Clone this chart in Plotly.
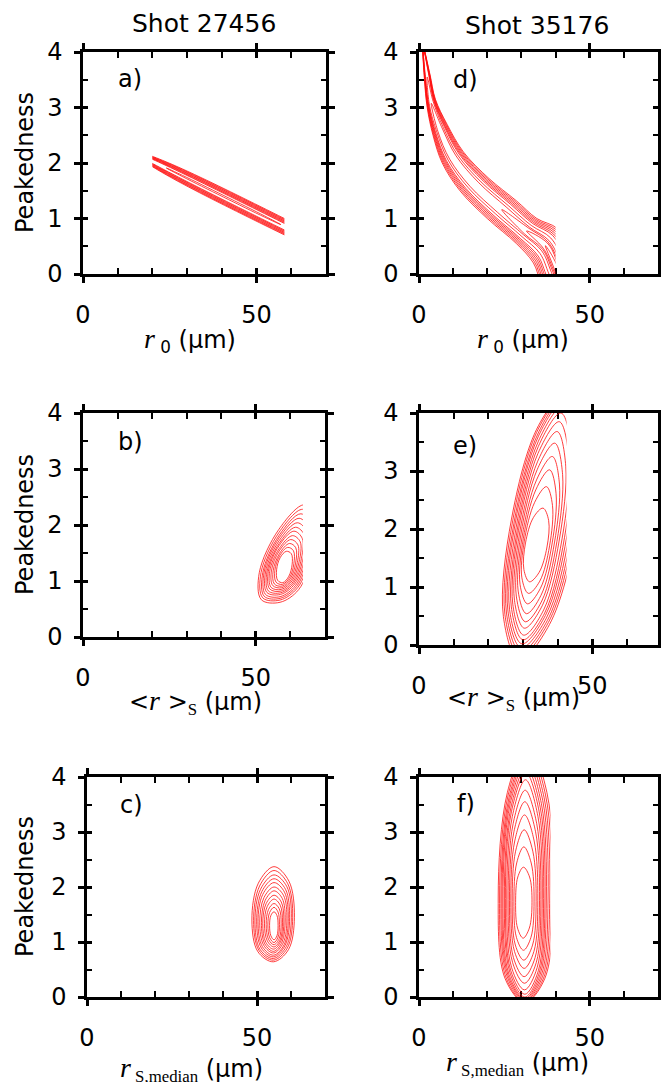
import plotly.graph_objects as go

W, H = 661, 1082

# ---------------- text / ticks ----------------
shot_titles = ["Shot 27456", "Shot 35176"]
panel_letters = ["a)", "b)", "c)", "d)", "e)", "f)"]
x_tick_vals = [0, 50]
y_tick_vals = [0, 1, 2, 3, 4]
y_label = "Peakedness"

# ---------------- contour data ----------------
# each contour: its left, top, right and bottom points (closed loop)
# panel a : r0 vs peakedness, shot 27456 (thin tilted band)
a_lx = [12.0, 12.0, 12.0, 12.0, 12.0, 12.0, 12.0, 24.0]
a_ly = [2.28, 2.28, 2.28, 2.28, 2.28, 2.28, 2.28, 1.91]
a_tx = [49.46, 49.36, 49.27, 49.17, 49.08, 48.98, 48.88, 40.6]
a_ty = [1.266, 1.254, 1.242, 1.230, 1.218, 1.206, 1.194, 1.412]
a_rx = [85.0, 85.0, 85.0, 85.0, 85.0, 85.0, 85.0, 57.0]
a_ry = [0.02, 0.02, 0.02, 0.02, 0.02, 0.02, 0.02, 0.89]
a_bx = [47.54, 47.64, 47.73, 47.83, 47.92, 48.02, 48.12, 40.4]
a_by = [1.026, 1.038, 1.050, 1.062, 1.074, 1.086, 1.098, 1.388]

# panel b : <r>_S vs peakedness, shot 27456
b_lx = [56.0, 55.5, 55.0, 54.5, 54.0, 53.6, 53.2, 52.8, 52.4, 52.0, 51.5, 51.0]
b_ly = [1.20, 1.19, 1.18, 1.18, 1.17, 1.17, 1.16, 1.16, 1.16, 1.15, 1.15, 1.15]
b_tx = [58.8, 59.2, 59.7, 60.1, 60.6, 61.0, 61.5, 62.0, 62.5, 63.0, 63.5, 64.0]
b_ty = [1.53, 1.60, 1.67, 1.74, 1.81, 1.89, 1.96, 2.04, 2.12, 2.20, 2.28, 2.36]
b_rx = [60.5, 61.0, 61.5, 62.0, 62.5, 63.0, 63.5, 64.0, 64.5, 65.0, 65.5, 66.0]
b_ry = [1.30, 1.31, 1.32, 1.33, 1.34, 1.35, 1.36, 1.37, 1.38, 1.39, 1.40, 1.40]
b_bx = [57.8, 57.7, 57.6, 57.5, 57.4, 57.3, 57.2, 57.1, 57.0, 57.0, 57.0, 57.0]
b_by = [0.97, 0.94, 0.91, 0.88, 0.85, 0.82, 0.79, 0.76, 0.72, 0.69, 0.66, 0.62]

# panel c : r_S,median vs peakedness, shot 27456
c_lx = [53.7, 53.2, 52.7, 52.2, 51.7, 51.3, 50.8, 50.3, 49.9, 49.4, 49.0, 48.5]
c_ly = [1.30, 1.31, 1.32, 1.33, 1.34, 1.35, 1.36, 1.37, 1.38, 1.38, 1.39, 1.40]
c_tx = [55.0, 55.0, 55.0, 55.0, 55.0, 55.0, 55.0, 55.0, 55.0, 55.0, 55.0, 55.0]
c_ty = [1.55, 1.63, 1.70, 1.78, 1.85, 1.93, 2.00, 2.08, 2.15, 2.22, 2.30, 2.37]
c_rx = [56.2, 56.6, 57.1, 57.5, 57.9, 58.3, 58.8, 59.2, 59.6, 60.1, 60.5, 61.0]
c_ry = [1.30, 1.32, 1.34, 1.36, 1.38, 1.40, 1.42, 1.43, 1.44, 1.45, 1.45, 1.45]
c_bx = [55.0, 55.0, 55.0, 55.0, 54.9, 54.9, 54.9, 54.9, 54.8, 54.8, 54.8, 54.8]
c_by = [1.04, 0.99, 0.95, 0.91, 0.87, 0.83, 0.80, 0.76, 0.73, 0.70, 0.67, 0.64]

# panel d : r0 vs peakedness, shot 35176 (curved ridge)
# outer edges of the ridge, read as pairs across the band
d_lo_x = [1.0, 1.6, 2.4, 4.1, 6.8, 12.0, 20.0, 28.5, 33.5, 36.0]
d_lo_y = [4.10, 3.50, 3.00, 2.50, 2.00, 1.50, 1.00, 0.55, 0.20, -0.20]
d_hi_x = [1.4, 3.2, 4.8, 8.2, 13.0, 20.5, 28.5, 34.5, 40.5, 44.0]
d_hi_y = [4.10, 3.60, 3.15, 2.70, 2.20, 1.72, 1.32, 1.00, 0.82, 0.45]
# relative width of each contour and the ridge point where it starts
d_frac = [1.00, 0.92, 0.84, 0.76, 0.68, 0.60, 0.45, 0.30, 0.22, 0.16, 0.10]
d_start = [0, 0, 0, 0, 0, 0, 1, 2, 6, 7, 8]

# panel e : <r>_S vs peakedness, shot 35176 (tilted ovals)
e_lx = [30.75, 30.4, 30.1, 29.75, 29.4, 29.05, 28.7, 28.4, 28.05, 27.7, 27.4, 27.05, 26.7]
e_ly = [1.76, 1.79, 1.83, 1.86, 1.90, 1.93, 1.97, 2.00, 2.03, 2.07, 2.10, 2.14, 2.17]
e_tx = [35.8, 36.8, 37.7, 38.5, 39.2, 39.9, 40.5, 41.0, 41.5, 42.0, 42.5, 42.9, 43.3]
e_ty = [2.36, 2.73, 3.02, 3.25, 3.48, 3.68, 3.85, 4.00, 4.12, 4.22, 4.30, 4.36, 4.40]
e_rx = [36.95, 37.7, 38.4, 39.1, 39.8, 40.5, 41.3, 42.0, 42.7, 43.4, 44.1, 44.8, 45.5]
e_ry = [1.69, 1.71, 1.74, 1.76, 1.78, 1.81, 1.83, 1.85, 1.88, 1.90, 1.92, 1.95, 1.97]
e_bx = [31.9, 31.6, 31.3, 31.0, 30.7, 30.4, 30.2, 30.0, 29.7, 29.5, 29.3, 29.1, 28.9]
e_by = [1.09, 0.89, 0.71, 0.54, 0.40, 0.29, 0.17, 0.09, 0.02, -0.05, -0.12, -0.19, -0.26]

# panel f : r_S,median vs peakedness, shot 35176
f_lx = [28.3, 27.8, 27.3, 26.9, 26.5, 26.1, 25.7, 25.3, 25.0, 24.6, 24.3, 24.0, 23.6, 23.2]
f_ly = [1.72, 1.73, 1.74, 1.75, 1.76, 1.77, 1.78, 1.79, 1.80, 1.80, 1.80, 1.80, 1.80, 1.80]
f_tx = [30.6, 30.7, 30.8, 30.9, 31.0, 31.1, 31.2, 31.3, 31.4, 31.5, 31.6, 31.7, 31.8, 31.9]
f_ty = [2.36, 2.73, 3.04, 3.31, 3.55, 3.76, 3.95, 4.08, 4.18, 4.28, 4.37, 4.45, 4.53, 4.60]
f_rx = [33.1, 33.7, 34.3, 34.8, 35.3, 35.7, 36.1, 36.5, 36.9, 37.3, 37.8, 38.3, 38.8, 39.3]
f_ry = [1.72, 1.73, 1.74, 1.75, 1.76, 1.77, 1.78, 1.79, 1.80, 1.80, 1.80, 1.80, 1.80, 1.80]
f_bx = [30.5, 30.6, 30.7, 30.8, 30.8, 30.9, 30.9, 31.0, 31.0, 31.0, 31.0, 31.0, 31.0, 31.0]
f_by = [1.07, 0.85, 0.67, 0.52, 0.37, 0.25, 0.13, 0.05, 0.00, -0.03, -0.05, -0.07, -0.09, -0.10]


def loops(lx, ly, tx, ty, rx, ry, bx, by, k=0.72):
    """closed loop through the four read extreme points, with a shoulder
    point between each pair so the spline rounds like an oval"""
    xs, ys = [], []
    for i in range(len(lx)):
        P = [(lx[i], ly[i]), (tx[i], ty[i]), (rx[i], ry[i]), (bx[i], by[i])]
        cx = sum(p[0] for p in P) / 4
        cy = sum(p[1] for p in P) / 4
        for j in range(4):
            p, q = P[j], P[(j + 1) % 4]
            xs.append(p[0])
            ys.append(p[1])
            xs.append(cx + k * (p[0] - cx) + k * (q[0] - cx))
            ys.append(cy + k * (p[1] - cy) + k * (q[1] - cy))
        xs += [P[0][0], None]
        ys += [P[0][1], None]
    return xs, ys


def ridge_loops(lo_x, lo_y, hi_x, hi_y, fracs, starts):
    n = len(lo_x)
    mx = [(lo_x[i] + hi_x[i]) / 2 for i in range(n)]
    my = [(lo_y[i] + hi_y[i]) / 2 for i in range(n)]
    xs, ys = [], []
    for f, s in zip(fracs, starts):
        px, py = [], []
        for i in range(n - 1, s, -1):
            px.append(mx[i] + f * (hi_x[i] - mx[i]))
            py.append(my[i] + f * (hi_y[i] - my[i]))
        px.append(mx[s])
        py.append(my[s])
        for i in range(s + 1, n):
            px.append(mx[i] + f * (lo_x[i] - mx[i]))
            py.append(my[i] + f * (lo_y[i] - my[i]))
        px += [48.0, px[0]]
        py += [-1.5, py[0]]
        xs += px + [None]
        ys += py + [None]
    return xs, ys


# ---------------- panel frames (pixel boxes) ----------------
# key, axis index, left px, right px, top px, bottom px, x max, clip range
panels = [
    ("a", 1, 83, 326, 52, 274, 70, (20.0, 58.0)),
    ("b", 2, 83, 325, 413, 637, 70, (0.0, 63.6)),
    ("c", 3, 87, 325, 777, 997, 70, None),
    ("d", 4, 419, 658, 52, 274, 70, (0.0, 40.0)),
    ("e", 5, 419, 658, 413, 645, 69, (0.0, 42.6)),
    ("f", 6, 419, 658, 777, 997, 70, (0.0, 38.5)),
]

contours = {
    "a": loops(a_lx, a_ly, a_tx, a_ty, a_rx, a_ry, a_bx, a_by),
    "b": loops(b_lx, b_ly, b_tx, b_ty, b_rx, b_ry, b_bx, b_by),
    "c": loops(c_lx, c_ly, c_tx, c_ty, c_rx, c_ry, c_bx, c_by),
    "d": ridge_loops(d_lo_x, d_lo_y, d_hi_x, d_hi_y, d_frac, d_start),
    "e": loops(e_lx, e_ly, e_tx, e_ty, e_rx, e_ry, e_bx, e_by, k=0.7071),
    "f": loops(f_lx, f_ly, f_tx, f_ty, f_rx, f_ry, f_bx, f_by),
}

FONT = "DejaVu Sans"
SERIF = "Liberation Serif"
LINE_W = 2.5
RED = "#ff0d0d"

fig = go.Figure()
layout = dict(
    width=W, height=H, margin=dict(l=0, r=0, t=0, b=0),
    paper_bgcolor="white", plot_bgcolor="rgba(0,0,0,0)",
    showlegend=False, template="none",
    font=dict(family=FONT, size=24, color="black"),
)


def sfx(i):
    return "" if i == 1 else str(i)


def empty_on(xa, ya):
    # empty trace so that the axis pair is always drawn
    fig.add_trace(go.Scatter(x=[], y=[], mode="lines", xaxis=xa, yaxis=ya,
                             hoverinfo="skip"))


clip_idx = 13
for key, i, pl, pr, pt, pb, xmax, clip in panels:
    xd = [pl / W, pr / W]
    yd = [1 - pb / H, 1 - pt / H]
    s = sfx(i)
    layout["xaxis" + s] = dict(
        domain=xd, range=[0, xmax], anchor="y" + s,
        showline=True, linecolor="black", linewidth=LINE_W, mirror="allticks",
        ticks="inside", ticklen=6, tickwidth=LINE_W, tickcolor="black",
        tickmode="array", tickvals=x_tick_vals, ticktext=[str(v) for v in x_tick_vals],
        tickfont=dict(family=FONT, size=24, color="black"), ticklabelstandoff=17,
        minor=dict(ticks="inside", ticklen=5, tickwidth=2, tickcolor="black",
                   dtick=10, tick0=0, showgrid=False),
        showgrid=False, zeroline=False, fixedrange=True,
    )
    layout["yaxis" + s] = dict(
        domain=yd, range=[0, 4], anchor="x" + s,
        showline=True, linecolor="black", linewidth=LINE_W, mirror="allticks",
        ticks="inside", ticklen=5, tickwidth=LINE_W, tickcolor="black",
        tickmode="array", tickvals=y_tick_vals, ticktext=[str(v) for v in y_tick_vals],
        tickfont=dict(family=FONT, size=24, color="black"), ticklabelstandoff=13,
        minor=dict(ticks="inside", ticklen=5, tickwidth=2, tickcolor="black",
                   dtick=0.5, tick0=0, showgrid=False),
        showgrid=False, zeroline=False, fixedrange=True,
    )
    empty_on("x" + s, "y" + s)
    # overlaid twin axes carrying the outward half of the major ticks
    j = str(i + 6)
    layout["xaxis" + j] = dict(
        range=[0, xmax], anchor="y" + s, overlaying="x" + s, side="bottom",
        showline=False, mirror="allticks", ticks="outside", ticklen=8,
        tickwidth=LINE_W, tickcolor="black", tickmode="array", tickvals=x_tick_vals,
        showticklabels=False, showgrid=False, zeroline=False, fixedrange=True,
    )
    layout["yaxis" + j] = dict(
        range=[0, 4], anchor="x" + s, overlaying="y" + s, side="left",
        showline=False, mirror="allticks", ticks="outside", ticklen=8,
        tickwidth=LINE_W, tickcolor="black", tickmode="array", tickvals=y_tick_vals,
        showticklabels=False, showgrid=False, zeroline=False, fixedrange=True,
    )
    empty_on("x" + j, "y" + s)
    empty_on("x" + s, "y" + j)

    xs, ys = contours[key]
    if clip is not None:
        c0, c1 = clip
        k = str(clip_idx)
        clip_idx += 1
        layout["xaxis" + k] = dict(
            domain=[(pl + (pr - pl) * c0 / xmax) / W, (pl + (pr - pl) * c1 / xmax) / W],
            range=[c0, c1], anchor="y" + k, visible=False, fixedrange=True,
        )
        layout["yaxis" + k] = dict(
            domain=yd, range=[0, 4], anchor="x" + k, visible=False, fixedrange=True,
        )
        xref, yref = "x" + k, "y" + k
    else:
        xref, yref = "x" + s, "y" + s
    fig.add_trace(go.Scatter(
        x=xs, y=ys, mode="lines", xaxis=xref, yaxis=yref,
        line=dict(color=RED, width=0.8, shape="spline", smoothing=1.0, simplify=False),
        connectgaps=False, hoverinfo="skip",
    ))

ann = []


def add_text(text, px, py, size=24, angle=0, family=FONT):
    ann.append(dict(text=text, x=px / W, y=1 - py / H, xref="paper", yref="paper",
                    showarrow=False, xanchor="center", yanchor="middle",
                    textangle=angle, font=dict(family=family, size=size, color="black")))


add_text(shot_titles[0], 204, 24, size=25)
add_text(shot_titles[1], 537, 26, size=25)

letter_pos = [(130, 79), (130, 442), (131, 805), (465, 80), (465, 446), (466, 804)]
for t, (px, py) in zip(panel_letters, letter_pos):
    add_text(t, px, py)

for py in (163, 525, 887):
    add_text(y_label, 25, py, angle=-90)

r_it = '<span style="font-family:%s;font-size:28px"><i>r</i></span>' % SERIF
t_r0 = r_it + '<sub> 0</sub> (µm)'
t_rs = ('&lt;' + r_it + ' &gt;<sub><span style="font-family:%s">S</span></sub> (µm)' % SERIF)
t_rm = (r_it + '<sub><span style="font-family:%s"> S,median</span></sub> (µm)' % SERIF)

add_text(t_r0, 190, 340)
add_text(t_r0, 523, 340)
add_text(t_rs, 195, 702)
add_text(t_rs, 513, 698)
add_text(t_rm, 191, 1069)
add_text(t_rm, 517, 1063)

layout["annotations"] = ann
fig.update_layout(**layout)
fig.write_html(
    "out.html",
    config={"displayModeBar": False},
    post_script="document.body.style.margin='0';document.body.style.overflow='hidden';",
)
